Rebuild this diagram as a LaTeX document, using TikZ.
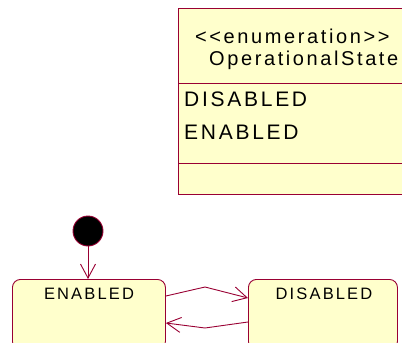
\documentclass[tikz,border=0pt]{standalone}
\usepackage{fontspec}
\setmainfont{Liberation Sans}[LetterSpace=13]
\usetikzlibrary{arrows.meta}
\definecolor{umlred}{HTML}{990033}
\definecolor{umlfill}{HTML}{FFFFCC}
\tikzset{
  classpart/.style={draw=umlred, fill=umlfill, line width=0.9pt, anchor=north west, inner sep=0pt},
  statebox/.style={draw=umlred, fill=umlfill, line width=0.9pt, rounded corners=8pt, anchor=north west, inner sep=0pt},
  bigtxt/.style={font=\fontsize{21}{24}\selectfont, anchor=base west, inner sep=0pt},
  headtxt/.style={font=\fontsize{20}{24}\selectfont, anchor=base west, inner sep=0pt},
  smalltxt/.style={font=\fontsize{16.5}{20}\selectfont, anchor=base, inner sep=0pt},
  trans/.style={draw=umlred, line width=0.9pt, -{Straight Barb[length=14pt,width=15pt,line width=0.9pt]}},
  initial/.style={circle, draw=umlred, fill=black, line width=0.9pt, minimum size=30pt, inner sep=0pt}
}
\begin{document}
\begin{tikzpicture}[x=1pt,y=-1pt]
\useasboundingbox (0,0) rectangle (402,343);
% class box
\node[classpart, minimum width=240pt, minimum height=75pt] (hdr) at (178,8) {};
\node[classpart, minimum width=240pt, minimum height=80pt] (attrs) at (178,83) {};
\node[classpart, minimum width=240pt, minimum height=31pt] (ops) at (178,163) {};
\node[headtxt] (stereo) at (195,43) {{<}{<}enumeration{>}{>}};
\node[headtxt] (cname) at (209,65) {OperationalState};
\node[bigtxt] (litD) at (184,106) {DISABLED};
\node[bigtxt] (litE) at (184,139) {ENABLED};
% state machine
\node[initial] (init) at (88,231) {};
\node[statebox, minimum width=153pt, minimum height=70pt] (en) at (12,279) {};
\node[statebox, minimum width=149pt, minimum height=70pt] (dis) at (248,279) {};
\node[smalltxt] (enl) at (89,299) {ENABLED};
\node[smalltxt] (disl) at (324,299) {DISABLED};
\coordinate (m1) at (205,287);
\coordinate (m2) at (205,328);
\draw[trans] (init.south) -- (en.north -| init.south);
\draw[trans] (en.north east |- 0,296) -- (m1) -- (dis.north west |- 0,298);
\draw[trans] (dis.north west |- 0,322) -- (m2) -- (en.north east |- 0,323);
\end{tikzpicture}
\end{document}
